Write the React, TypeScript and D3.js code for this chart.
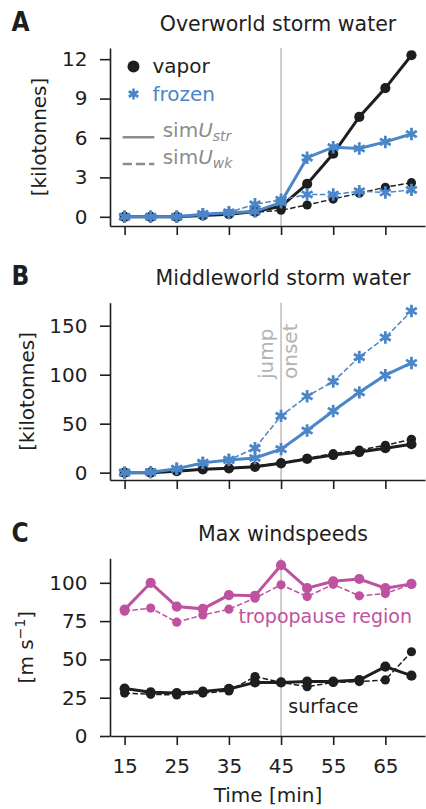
import React, { useEffect, useRef } from 'react';
import * as d3 from 'd3';

// time axis (minutes)
const times = [15, 20, 25, 30, 35, 40, 45, 50, 55, 60, 65, 70];
const xTicks = [15, 25, 35, 45, 55, 65];
const jumpTime = 45;

// panel A: overworld storm water [kilotonnes]
const vaporStrA = [0, 0, 0, 0.1, 0.2, 0.4, 0.8, 2.5, 4.8, 7.6, 9.8, 12.3];
const vaporWkA = [0, 0, 0, 0.1, 0.2, 0.35, 0.5, 0.9, 1.35, 1.8, 2.25, 2.6];
const frozenStrA = [0, 0, 0, 0.2, 0.3, 0.4, 1.1, 4.5, 5.3, 5.2, 5.7, 6.3];
const frozenWkA = [0, 0, 0, 0.2, 0.35, 0.95, 1.3, 1.7, 1.7, 1.95, 1.85, 2.05];
const yTicksA = [0, 3, 6, 9, 12];

// panel B: middleworld storm water [kilotonnes]
const vaporStrB = [0, 0, 1.5, 3.4, 4.4, 6, 9.5, 14, 18, 21, 25, 29];
const vaporWkB = [0, 0, 1.5, 3.4, 4.6, 6.5, 10, 14.7, 19.4, 23, 28, 34];
const frozenStrB = [0, 0.5, 4, 10, 13, 15, 24, 43, 63, 82, 99.5, 112];
const frozenWkB = [0, 0.5, 4, 10, 13, 25, 58, 78, 93, 118, 138, 165];
const yTicksB = [0, 50, 100, 150];

// panel C: max windspeeds [m/s]
const tropoStr = [82.5, 100, 84.5, 83, 92, 91.5, 111.5, 96.5, 101, 102.5, 96.5, 99.3];
const tropoWk = [81.5, 83.5, 74.3, 79, 82.8, 90, 98.7, 91, 99, 91.5, 93, 99];
const surfStr = [31, 28.5, 28, 29, 30.7, 35, 35, 35.5, 35.5, 36.5, 45.3, 39.4];
const surfWk = [28, 27.2, 26.8, 28, 29.4, 38.8, 35, 32.2, 35, 35.5, 36.6, 55];
const yTicksC = [0, 25, 50, 75, 100];

const FONT = "'DejaVu Sans', sans-serif";
const LETTER_FONT = "'Liberation Sans Narrow', 'DejaVu Sans Condensed', 'DejaVu Sans', sans-serif";
const BLACK = '#1e1e1e';
const BLUE = '#4a86c8';
const PINK = '#bf52a0';
const VLINE = '#bdbdbd';
const LEGEND_GREY = '#8c8c8c';

function asterisk(r: number) {
  const c = r * Math.cos(Math.PI / 6);
  const s = r * Math.sin(Math.PI / 6);
  return `M0,${-r}L0,${r}M${-c},${-s}L${c},${s}M${-c},${s}L${c},${-s}`;
}

function App() {
  const ref = useRef<SVGSVGElement>(null);

  useEffect(() => {
    const svg = d3.select(ref.current);
    svg.selectAll('*').remove();

    const x = d3.scaleLinear().domain([12.2, 72.6]).range([110, 425]);

    const panels = [
      {
        letter: 'A', letterY: 30.7, title: 'Overworld storm water', titleX: 278, titleY: 30.5,
        y: d3.scaleLinear().domain([-0.7, 12.85]).range([226, 48]),
        yTicks: yTicksA, ylabel: '[kilotonnes]', ylabelX: 46, showX: false,
        series: [
          { v: vaporWkA, color: BLACK, dashed: true, marker: 'circle' },
          { v: vaporStrA, color: BLACK, dashed: false, marker: 'circle' },
          { v: frozenWkA, color: BLUE, dashed: true, marker: 'star' },
          { v: frozenStrA, color: BLUE, dashed: false, marker: 'star' },
        ],
      },
      {
        letter: 'B', letterY: 285, title: 'Middleworld storm water', titleX: 283, titleY: 285,
        y: d3.scaleLinear().domain([-7.5, 173.5]).range([480, 302.7]),
        yTicks: yTicksB, ylabel: '[kilotonnes]', ylabelX: 34, showX: false,
        series: [
          { v: vaporWkB, color: BLACK, dashed: true, marker: 'circle' },
          { v: vaporStrB, color: BLACK, dashed: false, marker: 'circle' },
          { v: frozenWkB, color: BLUE, dashed: true, marker: 'star' },
          { v: frozenStrB, color: BLUE, dashed: false, marker: 'star' },
        ],
      },
      {
        letter: 'C', letterY: 541.7, title: 'Max windspeeds', titleX: 283, titleY: 541,
        y: d3.scaleLinear().domain([0, 116]).range([736, 558.3]),
        yTicks: yTicksC, ylabel: '', ylabelX: 33, showX: true,
        series: [
          { v: tropoWk, color: PINK, dashed: true, marker: 'circle' },
          { v: tropoStr, color: PINK, dashed: false, marker: 'circle' },
          { v: surfWk, color: BLACK, dashed: true, marker: 'circle' },
          { v: surfStr, color: BLACK, dashed: false, marker: 'circle' },
        ],
      },
    ];

    panels.forEach(p => {
      const [y0, y1] = p.y.range();
      const g = svg.append('g');

      // jump onset line
      g.append('line')
        .attr('x1', x(jumpTime)).attr('x2', x(jumpTime))
        .attr('y1', y1).attr('y2', y0)
        .attr('stroke', VLINE).attr('stroke-width', 1.5);

      // axes
      const yAxis = g.append('g')
        .attr('transform', `translate(${x.range()[0]},0)`)
        .call(d3.axisLeft(p.y).tickValues(p.yTicks).tickSize(10).tickSizeOuter(0).tickPadding(12.5));
      const xAxis = g.append('g')
        .attr('transform', `translate(0,${y0})`)
        .call(d3.axisBottom(x).tickValues(xTicks).tickSize(9).tickSizeOuter(0).tickPadding(13.4)
          .tickFormat(p.showX ? (d => String(d)) : () => ''));
      [yAxis, xAxis].forEach(a => {
        a.select('.domain').attr('stroke', BLACK).attr('stroke-width', 1.6);
        a.selectAll('.tick line').attr('stroke', BLACK).attr('stroke-width', 1.6);
        a.selectAll('.tick text').attr('fill', BLACK).attr('font-size', 20).attr('font-family', FONT);
      });

      // series
      p.series.forEach(s => {
        const line = d3.line<number>().x((d, i) => x(times[i])).y(d => p.y(d));
        g.append('path')
          .attr('d', line(s.v))
          .attr('fill', 'none')
          .attr('stroke', s.color)
          .attr('stroke-width', s.dashed ? 1.5 : 3)
          .attr('stroke-dasharray', s.dashed ? '5.5,2.4' : null);
        if (s.marker === 'circle') {
          g.selectAll(null).data(s.v).join('circle')
            .attr('cx', (d, i) => x(times[i]))
            .attr('cy', d => p.y(d))
            .attr('r', s.dashed ? 4.6 : 5.1)
            .attr('fill', s.color);
        } else {
          g.selectAll(null).data(s.v).join('path')
            .attr('d', asterisk(6.2))
            .attr('transform', (d, i) => `translate(${x(times[i])},${p.y(d)})`)
            .attr('fill', 'none')
            .attr('stroke', s.color)
            .attr('stroke-width', 2.8);
        }
      });

      // titles / letters
      svg.append('text').attr('x', 11.5).attr('y', p.letterY)
        .attr('font-family', LETTER_FONT).attr('font-weight', 'bold').attr('font-size', 26)
        .attr('fill', BLACK).text(p.letter);
      svg.append('text').attr('x', p.titleX).attr('y', p.titleY)
        .attr('text-anchor', 'middle').attr('font-family', FONT).attr('font-size', 20.5)
        .attr('fill', BLACK).text(p.title);

      const yl = svg.append('text')
        .attr('transform', `translate(${p.ylabelX},${(y0 + y1) / 2}) rotate(-90)`)
        .attr('text-anchor', 'middle').attr('font-family', FONT).attr('font-size', 20)
        .attr('fill', BLACK);
      if (p.ylabel) {
        yl.text(p.ylabel);
      } else {
        yl.append('tspan').text('[m s');
        yl.append('tspan').attr('dy', -8).attr('font-size', 14).text('\u22121');
        yl.append('tspan').attr('dy', 8).text(']');
      }
    });

    // legend (panel A)
    const lg = svg.append('g').attr('font-family', FONT).attr('font-size', 20);
    lg.append('circle').attr('cx', 133.5).attr('cy', 66.5).attr('r', 6).attr('fill', BLACK);
    lg.append('text').attr('x', 152.5).attr('y', 73.3).attr('fill', BLACK).text('vapor');
    lg.append('path').attr('d', asterisk(5.5)).attr('transform', 'translate(133.5,94)')
      .attr('fill', 'none').attr('stroke', BLUE).attr('stroke-width', 2.6);
    lg.append('text').attr('x', 152.5).attr('y', 100.5).attr('fill', BLUE).text('frozen');
    [
      { yy: 137.3, dash: null, sub: 'str' },
      { yy: 164, dash: '9.2,4', sub: 'wk' },
    ].forEach(it => {
      lg.append('line').attr('x1', 122.7).attr('x2', 154.3).attr('y1', it.yy).attr('y2', it.yy)
        .attr('stroke', LEGEND_GREY).attr('stroke-width', 2.5).attr('stroke-dasharray', it.dash);
      const t = lg.append('text').attr('x', 162.7).attr('y', it.yy).attr('fill', LEGEND_GREY);
      t.append('tspan').text('sim');
      t.append('tspan').attr('font-style', 'italic').text('U');
      t.append('tspan').attr('font-style', 'italic').attr('font-size', 14).attr('dy', 4).text(it.sub);
    });

    // jump onset annotation (panel B)
    [{ txt: 'jump', bx: 273 }, { txt: 'onset', bx: 297 }].forEach(a => {
      svg.append('text')
        .attr('transform', `translate(${a.bx},379) rotate(-90)`)
        .attr('font-family', FONT).attr('font-size', 20).attr('fill', '#b3b3b3')
        .text(a.txt);
    });

    // panel C annotations
    svg.append('text').attr('x', 412).attr('y', 623).attr('text-anchor', 'end')
      .attr('font-family', FONT).attr('font-size', 19).attr('fill', PINK).text('tropopause region');
    svg.append('text').attr('x', 288.3).attr('y', 713).attr('font-family', FONT)
      .attr('font-size', 19).attr('fill', BLACK).text('surface');

    // x label
    svg.append('text').attr('x', 268).attr('y', 802).attr('text-anchor', 'middle')
      .attr('font-family', FONT).attr('font-size', 20).attr('fill', BLACK).text('Time [min]');
  }, []);

  return (
    <svg ref={ref} width={426} height={809} style={{ position: 'absolute', left: 0, top: 0, background: '#fff' }}></svg>
  );
}

export default App;
